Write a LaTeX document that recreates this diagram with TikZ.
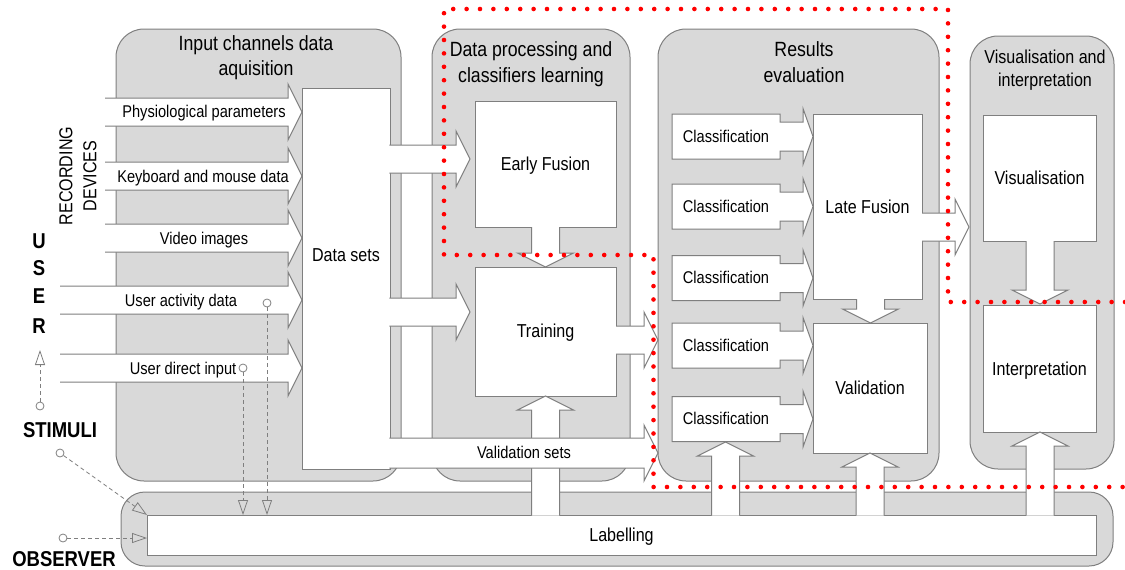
\documentclass[tikz,border=0pt]{standalone}
\usepackage{fontspec}
\setmainfont{Liberation Sans}[FakeStretch=0.86]
\usetikzlibrary{arrows.meta}
\definecolor{pfill}{HTML}{D9D9D9}
\definecolor{pline}{HTML}{7F7F7F}
\newcommand{\fsA}{\fontsize{17}{20}\selectfont}
\newcommand{\fsB}{\fontsize{18.7}{24}\selectfont}
\newcommand{\fsC}{\fontsize{20.6}{26}\selectfont}
\newcommand{\fsD}{\fontsize{21.5}{26}\selectfont\bfseries}
% right block arrow: x0, tip x, centre y, shaft half height
\newcommand{\blkR}[4]{%
  \fill[white] (#1,#3-#4) -- (#2-14,#3-#4) -- (#2-14,#3-28) -- (#2,#3) -- (#2-14,#3+28) -- (#2-14,#3+#4) -- (#1,#3+#4) -- cycle;
  \draw[aline] (#1,#3-#4) -- (#2-14,#3-#4) -- (#2-14,#3-28) -- (#2,#3) -- (#2-14,#3+28) -- (#2-14,#3+#4) -- (#1,#3+#4);}
% up block arrow: centre x, bottom y (open), tip y
\newcommand{\blkU}[3]{%
  \fill[white] (#1-14,#2) -- (#1-14,#3+14) -- (#1-28,#3+14) -- (#1,#3) -- (#1+28,#3+14) -- (#1+14,#3+14) -- (#1+14,#2) -- cycle;
  \draw[aline] (#1-14,#2) -- (#1-14,#3+14) -- (#1-28,#3+14) -- (#1,#3) -- (#1+28,#3+14) -- (#1+14,#3+14) -- (#1+14,#2);}
% down block arrow: centre x, top y (open), tip y
\newcommand{\blkD}[3]{%
  \fill[white] (#1-14,#2) -- (#1-14,#3-14) -- (#1-28,#3-14) -- (#1,#3) -- (#1+28,#3-14) -- (#1+14,#3-14) -- (#1+14,#2) -- cycle;
  \draw[aline] (#1-14,#2) -- (#1-14,#3-14) -- (#1-28,#3-14) -- (#1,#3) -- (#1+28,#3-14) -- (#1+14,#3-14) -- (#1+14,#2);}
% classification box with its arrow
\newcommand{\clsShape}[1]{%
  \draw[aline, fill=white] (672,#1-22.5) -- (780,#1-22.5) -- (780,#1-14.5) -- (803,#1-14.5) -- (803,#1-28) -- (813,#1) -- (803,#1+28) -- (803,#1+14.5) -- (780,#1+14.5) -- (780,#1+22.5) -- (672,#1+22.5) -- cycle;}
\begin{document}
\begin{tikzpicture}[x=1pt, y=-1pt,
  panel/.style={draw=pline, fill=pfill, line width=1pt, rounded corners=28},
  aline/.style={draw=pline, line width=1pt, line join=miter},
  box/.style={draw=pline, fill=white, line width=1pt, inner sep=0, outer sep=0, rectangle},
  lbl/.style={anchor=base, inner sep=0, font=\fsA},
  blbl/.style={anchor=base, inner sep=0, font=\fsB},
  ttl/.style={anchor=base, inner sep=0, font=\fsC},
  big/.style={anchor=base, inner sep=0, font=\fsD},
  dline/.style={draw=pline, line width=0.8pt, dash pattern=on 4pt off 3pt},
  tri/.style={-{Triangle[open, length=15pt, width=10pt]}},
  circ/.style={circle, draw=pline, fill=white, line width=0.8pt, minimum size=8, inner sep=0},
  reddot/.style={draw=red, line width=4.6pt, line cap=round, dash pattern=on 0pt off 13.4pt}]
\useasboundingbox (0,0) rectangle (1125,570);

% panels
\draw[panel] (116,29) rectangle (401,481);
\draw[panel] (432,29) rectangle (630,481);
\draw[panel] (658,29) rectangle (939,481);
\draw[panel] (970,36) rectangle (1114,469);

% labelling ring
\draw[panel, rounded corners=24] (121,492) rectangle (1113,566);
\node[box, minimum width=949, minimum height=40] (lab) at (621.5,535) {};

% data sets box
\node[box, minimum width=88, minimum height=381] (ds) at (346,278.5) {};

% input arrows
\blkR{105}{302}{112}{14}
\blkR{105}{302}{176}{14}
\blkR{105}{302}{238}{14}
\blkR{60}{302}{300}{14}
\blkR{60}{302}{368}{14}

% processing boxes
\node[box, minimum width=141, minimum height=126] (ef) at (545.5,164) {};
\node[box, minimum width=141, minimum height=129] (tr) at (545.5,331.5) {};
\blkR{389.4}{470}{159}{14}
\blkR{389.4}{470}{312}{14}
\blkD{545.5}{227}{267}
\blkU{545.5}{515.6}{396}
\blkR{389.4}{658}{453}{15}
\blkR{616}{658}{340}{14}

% results evaluation
\clsShape{136.5}
\clsShape{206.5}
\clsShape{278}
\clsShape{345.5}
\clsShape{419}
\node[box, minimum width=109, minimum height=185] (lf) at (867.5,206.5) {};
\node[box, minimum width=114, minimum height=130] (va) at (870,388) {};
\blkD{870.5}{299}{323}
\blkU{725.5}{515.6}{442}
\blkU{870}{515.6}{453}
\blkR{922}{969}{227}{14}

% visualisation
\node[box, minimum width=113, minimum height=126] (vi) at (1039.5,178) {};
\node[box, minimum width=113, minimum height=127] (ip) at (1039.5,368.5) {};
\blkD{1040}{241}{304}
\blkU{1040}{515.6}{432}

% titles
\node[ttl] (t1a) at (256,50) {Input channels data};
\node[ttl] (t1b) at (256,75) {aquisition};
\node[ttl] (t2a) at (531,56.5) {Data processing and};
\node[ttl] (t2b) at (531,82) {classifiers learning};
\node[ttl] (t3a) at (804,56.5) {Results};
\node[ttl] (t3b) at (804,82) {evaluation};
\node[blbl] (t4a) at (1045,63.5) {Visualisation and};
\node[blbl] (t4b) at (1045,86) {interpretation};

% labels
\node[lbl] (a1) at (204,117.5) {Physiological parameters};
\node[lbl] (a2) at (203,182) {Keyboard and mouse data};
\node[lbl] (a3) at (204,244) {Video images};
\node[lbl] (a4) at (181,306) {User activity data};
\node[lbl] (a5) at (183,374) {User direct input};
\node[lbl] (vs) at (524,458.5) {Validation sets};
\node[blbl] (dst) at (346,261) {Data sets};
\node[blbl] (eft) at (545.5,170) {Early Fusion};
\node[blbl] (trt) at (545.5,337) {Training};
\node[blbl] (lft) at (867.5,213) {Late Fusion};
\node[blbl] (vat) at (870,394) {Validation};
\node[blbl] (vit) at (1039.5,184) {Visualisation};
\node[blbl] (ipt) at (1039.5,375) {Interpretation};
\node[blbl] (labt) at (621.5,541.5) {Labelling};
\node[lbl] (c1) at (726,142.5) {Classification};
\node[lbl] (c2) at (726,212.5) {Classification};
\node[lbl] (c3) at (726,283.5) {Classification};
\node[lbl] (c4) at (726,351.5) {Classification};
\node[lbl] (c5) at (726,424.5) {Classification};

% left side labels
\node[rotate=90, align=center, inner sep=0, font=\fontsize{18.7}{24}\selectfont] (rec) at (78,176) {RECORDING\\DEVICES};
\node[big] (u1) at (39,248) {U};
\node[big] (u2) at (39,275.5) {S};
\node[big] (u3) at (39,303.5) {E};
\node[big] (u4) at (39,333) {R};
\node[big] (stim) at (60,437) {STIMULI};
\node[big] (obs) at (64,566) {OBSERVER};

% dashed connectors
\node[circ] (cu) at (40,406) {};
\coordinate (tu) at (40,350);
\draw[dline, tri] (cu) -- (tu);
\node[circ] (cs) at (60,453) {};
\coordinate (ts) at (147,515);
\draw[dline, tri] (cs) -- (ts);
\node[circ] (co) at (63,538) {};
\coordinate (to) at (147,538);
\draw[dline, tri] (co) -- (to);
\node[circ] (cd) at (243,368) {};
\coordinate (td) at (243,515);
\draw[dline, tri] (cd) -- (td);
\node[circ] (ca) at (267,303) {};
\coordinate (ta) at (267,515);
\draw[dline, tri] (ca) -- (ta);

% red dotted boundary
\draw[reddot] (1125,302) -- (948,302) -- (948,9) -- (444,9) -- (444,255) -- (653.5,255) -- (653.5,487) -- (1125,487);
\end{tikzpicture}
\end{document}
